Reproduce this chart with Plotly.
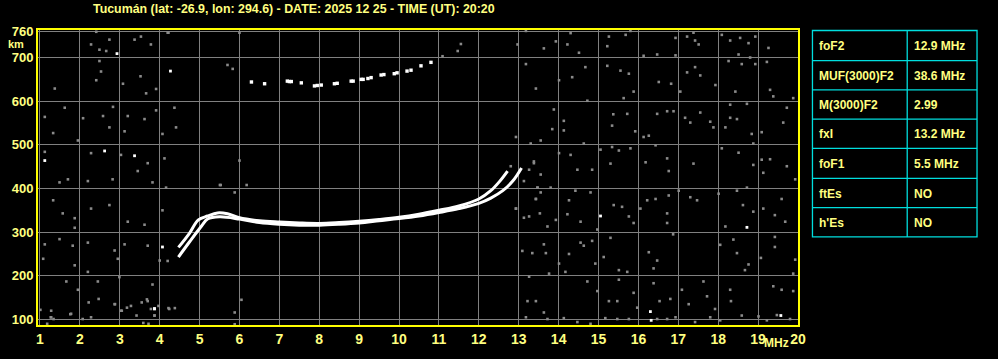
import plotly.graph_objects as go

# ---------------- data ----------------
title_text = "Tucumán (lat: -26.9, lon: 294.6) - DATE: 2025 12 25 - TIME (UT): 20:20"
freq_ticks = list(range(1, 21))
height_ticks = [100, 200, 300, 400, 500, 600, 700, 760]

# ordinary-ray trace (MHz, km)
o_freq = [4.47, 4.75, 4.97, 5.2, 5.45, 5.7, 6.0, 6.5, 7.0, 7.5, 8.0, 8.5, 9.0, 9.5, 10.0,
          10.5, 11.0, 11.5, 12.0, 12.3, 12.5, 12.72]
o_height = [265, 298, 328, 337, 344, 342, 333, 326, 323, 321, 320, 322, 325, 329, 334,
            341, 350, 360, 376, 395, 414, 440]
# extraordinary-ray trace
x_freq = [4.47, 4.75, 5.05, 5.2, 5.5, 6.0, 6.5, 7.0, 7.5, 8.0, 8.5, 9.0, 9.5, 10.0, 10.5,
          11.0, 11.5, 12.0, 12.3, 12.6, 12.85, 13.07]
x_height = [243, 278, 314, 330, 335, 330, 322, 318, 316, 316, 318, 321, 326, 331, 337,
            345, 354, 366, 378, 395, 417, 447]
# second-hop echo (patchy)
hop2_freq = [6.3, 6.63, 7.2, 7.25, 7.3, 7.55, 7.88, 7.95, 8.05, 8.38, 8.45, 8.8, 8.85, 9.05,
             9.1, 9.22, 9.3, 9.55, 9.62, 9.88, 9.95, 10.2, 10.3, 10.55, 10.8]
hop2_height = [644, 640, 646, 645, 645, 642, 635, 636, 637, 640, 641, 646, 646, 650,
               650, 652, 654, 660, 661, 663, 665, 669, 671, 681, 689]

# background noise pixels (grey)
noise_freq = [2.41, 2.74, 2.28, 2.66, 2.49, 3.53, 3.78, 3.37, 4.2, 2.49, 2.53, 2.41, 3.08, 3.52,
              3.66, 3.91, 1.37, 5.7, 5.83, 1.12, 1.62, 2.08, 2.83, 2.58, 3.2, 3.62, 3.91, 4.37,
              4.41, 1.33, 1.95, 2.74, 3.12, 4.07, 1.12, 2.28, 3.03, 3.7, 3.45, 4.12, 1.49, 1.7,
              2.2, 2.82, 3.82, 4.16, 5.53, 1.33, 1.57, 1.87, 2.28, 2.74, 3.2, 3.62, 4.07, 1.87,
              1.12, 1.49, 1.82, 2.2, 2.87, 3.12, 3.7, 1.08, 1.87, 2.2, 2.95, 4.0, 4.2, 1.66,
              2.45, 2.99, 3.82, 1.95, 2.87, 3.7, 1.28, 1.78, 2.28, 3.03, 4.24, 3.28, 1.28, 2.07,
              3.87, 4.22, 6.0, 11.09, 11.47, 11.55, 6.0, 6.18, 5.51, 5.88, 5.88, 6.05,
              1.01, 1.27, 1.34, 1.18, 1.76, 2.22, 2.47, 2.88, 3.05, 3.18, 3.42, 3.55, 3.68, 3.78,
              3.87, 3.97, 4.22, 4.38, 3.59, 3.72, 5.88,
              12.8, 13.26, 12.93, 13.38, 13.47, 13.55, 13.43, 13.26, 13.72,
              13.18, 13.93, 14.22, 14.3, 13.63, 12.97, 14.51, 15.26, 15.22, 15.68, 15.8, 16.93,
              17.38, 17.42, 17.22, 17.51, 18.09, 18.3, 18.55, 18.76, 18.93, 19.26, 18.51, 18.8,
              16.93, 16.47, 16.13, 13.18, 14.34, 14.67, 15.22, 15.55, 15.76, 13.43, 14.01,
              14.72, 15.63, 15.88, 16.51, 16.82, 17.05, 17.22, 17.42, 17.55, 17.93, 18.26,
              18.59, 18.43, 18.93, 19.22, 19.3, 19.38, 19.88, 13.88, 14.13, 13.84, 14.13, 12.93,
              13.55, 13.3, 15.37, 15.34, 15.72, 15.92, 16.13, 16.26, 16.47, 16.72, 16.88, 17.17,
              17.3, 17.55, 17.8, 17.88, 18.3, 18.3, 18.18, 18.47, 18.72, 19.09, 19.63, 19.72,
              18.84, 13.38, 14.01, 14.3, 14.63, 15.05, 15.34, 15.51, 15.8, 16.18, 16.43, 16.72,
              17.38, 18.09, 18.51, 18.88, 19.09, 19.3, 19.72, 14.47, 14.84, 15.3, 16.76, 18.88,
              19.13,
              13.13, 13.47, 13.8, 13.55, 13.43, 14.26, 14.42, 14.8, 12.93, 13.13, 13.53, 13.93,
              14.22, 14.55, 14.97, 15.38, 15.59, 15.76, 15.88, 16.05, 16.22, 16.43, 16.72, 16.72,
              16.76, 17.01, 17.3, 17.47, 18.01, 18.18, 18.47, 18.72, 18.62, 18.88, 19.13, 19.42,
              19.59, 19.68, 19.93, 13.09, 13.34, 13.63, 13.68, 14.01, 14.26, 14.55, 14.63, 14.84,
              14.92, 15.13, 15.3, 15.51, 15.72, 16.26, 16.47, 16.38, 16.87, 18.05, 18.38, 18.47,
              18.76, 18.67, 19.07, 19.42, 19.42, 19.88, 19.93, 13.76, 14.17, 13.26, 14.72, 14.97,
              15.26, 15.47, 15.51, 15.88, 15.97, 16.38, 16.53, 16.8, 17.09, 17.26, 17.63, 17.72,
              17.92, 18.3, 18.32, 18.59, 19.38, 19.59, 19.88, 13.22, 13.43, 13.63, 13.18, 13.72,
              14.13, 14.47, 14.8, 15.17, 15.47, 15.76, 16.47, 16.72, 16.93, 17.42, 17.8, 18.05,
              19.01, 19.22, 19.47, 19.8]
noise_height = [759, 741, 730, 715, 718, 748, 730, 741, 757, 692, 668, 648, 640, 657,
                618, 628, 629, 683, 674, 564, 585, 561, 587, 566, 566, 559, 579, 585,
                540, 527, 510, 540, 531, 525, 484, 481, 477, 458, 440, 469, 414, 421,
                417, 421, 414, 402, 408, 373, 343, 332, 354, 362, 324, 317, 350, 310,
                272, 284, 269, 276, 258, 272, 269, 239, 224, 209, 239, 235, 234, 187,
                187, 197, 180, 168, 135, 142, 120, 113, 105, 120, 124, 131, 105, 101,
                109, 757, 757, 703, 715, 731, 464, 408, 408, 391, 116, 145,
                122, 105, 101, 90, 112, 139, 147, 135, 120, 127, 109, 139, 146, 124,
                109, 131, 126, 126, 92, 90, 89,
                451, 443, 354, 458, 402, 432, 376, 336, 313,
                761, 737, 730, 756, 721, 730, 711, 748, 726, 752, 761, 745,
                757, 739, 748, 730, 752, 739, 745, 733, 748, 722, 707, 700,
                705, 707, 704, 685, 655, 678, 681, 670, 663, 629, 648,
                601, 607, 622, 644, 640, 622, 666, 678, 659, 637, 692,
                685, 622, 685, 690, 626, 611, 607, 581, 555, 536, 533, 518,
                510, 503, 570, 544, 571, 531, 518, 521, 571, 577, 577, 562,
                551, 574, 553, 540, 592, 562, 540, 559, 594, 529, 551, 585,
                525, 462, 481, 477, 503, 489, 495, 487, 492, 460, 499, 469,
                457, 492, 482, 503, 466, 467, 451, 443, 443, 457, 440, 454,
                436,
                417, 402, 402, 391, 376, 373, 395, 391, 354, 333, 343, 328,
                341, 324, 306, 362, 358, 336, 321, 354, 373, 376, 343, 321,
                384, 395, 380, 373, 388, 313, 395, 402, 362, 347, 354, 339,
                376, 324, 421, 257, 252, 272, 252, 228, 250, 276, 269, 280,
                228, 243, 287, 213, 209, 254, 235, 217, 295, 271, 283, 252,
                226, 213, 241, 289, 266, 205, 237, 205, 209, 198, 187, 165,
                142, 142, 191, 161, 127, 183, 142, 147, 168, 135, 187, 153,
                124, 168, 142, 109, 176, 168, 165, 142, 142, 116, 105, 101,
                103, 94, 90, 103, 101, 101, 101, 101, 105, 94, 105, 98,
                107, 98, 110, 101]
# brighter isolated pixels (white)
bright_freq = [2.93, 4.27, 1.12, 2.62, 3.37, 4.07, 3.87, 3.87, 15.05, 18.72, 16.3, 16.32, 19.57]
bright_height = [709, 669, 464, 486, 475, 266, 124, 125, 337, 311, 118, 98, 109]

# parameter table
param_names = ["foF2", "MUF(3000)F2", "M(3000)F2", "fxI", "foF1", "ftEs", "h'Es"]
param_values = ["12.9 MHz", "38.6 MHz", "2.99", "13.2 MHz", "5.5 MHz", "NO", "NO"]

# ---------------- figure ----------------
YEL = "#ffff80"
BORDER = "#ffff00"
GRID = "#808080"
CYAN = "#00dede"
FONT = "Liberation Sans"

W, H = 998, 359
ML, MR, MT, MB = 36, 200, 30, 26
PW, PH = W - ML - MR, H - MT - MB


def px(x):
    return (x - ML) / PW


def py(y):
    return (H - MB - y) / PH


fig = go.Figure()

fig.add_trace(go.Scatter(x=noise_freq, y=noise_height, mode="markers",
                         marker=dict(symbol="square", size=2.6, color="#8a8a8a", line_width=0),
                         hoverinfo="skip"))
fig.add_trace(go.Scatter(x=bright_freq, y=bright_height, mode="markers",
                         marker=dict(symbol="square", size=2.8, color="#ffffff", line_width=0),
                         hoverinfo="skip"))
fig.add_trace(go.Scatter(x=hop2_freq, y=hop2_height, mode="markers",
                         marker=dict(symbol="square", size=3.4, color="#ffffff", line_width=0),
                         hoverinfo="skip"))
fig.add_trace(go.Scatter(x=o_freq, y=o_height, mode="lines", line_shape="spline",
                         line=dict(color="#ffffff", width=3), hoverinfo="skip"))
fig.add_trace(go.Scatter(x=x_freq, y=x_height, mode="lines", line_shape="spline",
                         line=dict(color="#ffffff", width=3), hoverinfo="skip"))

fig.update_xaxes(range=[0.95, 20.0], tickvals=freq_ticks, ticktext=[str(t) for t in freq_ticks],
                 showgrid=True, gridcolor=GRID, gridwidth=1, zeroline=False,
                 showline=True, linecolor=BORDER, linewidth=2, mirror=True, ticks="",
                 tickfont=dict(family=FONT, size=14, color=YEL, weight="bold"))
fig.update_yaxes(range=[87.3, 763.1], tickvals=height_ticks, ticktext=[str(t) for t in height_ticks],
                 showgrid=True, gridcolor=GRID, gridwidth=1, zeroline=False,
                 showline=True, linecolor=BORDER, linewidth=2, mirror=True, ticks="",
                 tickfont=dict(family=FONT, size=13, color=YEL, weight="bold"))

annotations = [
    dict(text=title_text, x=px(89), y=py(8), xref="paper", yref="paper", xanchor="left",
         yanchor="middle", showarrow=False, font=dict(family=FONT, size=12.4, color=YEL, weight="bold")),
    dict(text="km", x=px(14), y=py(44.5), xref="paper", yref="paper", xanchor="center",
         yanchor="middle", showarrow=False, font=dict(family=FONT, size=11, color=YEL, weight="bold")),
    dict(text="MHz", x=px(776), y=py(351), xref="paper", yref="paper", xanchor="center",
         yanchor="middle", showarrow=False, font=dict(family=FONT, size=12, color=YEL, weight="bold")),
]

shapes = []
tx0, tx1, tdiv = 812.5, 977.5, 907.5
row_edges = [30.5, 61.5, 91.5, 121.5, 151.5, 182.5, 212.5, 242.5]
shapes.append(dict(type="rect", xref="paper", yref="paper", x0=px(tx0), x1=px(tx1),
                   y0=py(row_edges[-1]), y1=py(row_edges[0]), line=dict(color=CYAN, width=1.3),
                   fillcolor="rgba(0,0,0,0)", layer="above"))
shapes.append(dict(type="line", xref="paper", yref="paper", x0=px(tdiv), x1=px(tdiv),
                   y0=py(row_edges[-1]), y1=py(row_edges[0]), line=dict(color=CYAN, width=1.3)))
for ye in row_edges[1:-1]:
    shapes.append(dict(type="line", xref="paper", yref="paper", x0=px(tx0), x1=px(tx1),
                       y0=py(ye), y1=py(ye), line=dict(color=CYAN, width=1.3)))
for i, (nm, val) in enumerate(zip(param_names, param_values)):
    yc = (row_edges[i] + row_edges[i + 1]) / 2 + 0.5
    annotations.append(dict(text=nm, x=px(817), y=py(yc), xref="paper", yref="paper",
                            xanchor="left", yanchor="middle", showarrow=False,
                            font=dict(family=FONT, size=12, color=YEL, weight="bold")))
    annotations.append(dict(text=val, x=px(912), y=py(yc), xref="paper", yref="paper",
                            xanchor="left", yanchor="middle", showarrow=False,
                            font=dict(family=FONT, size=12, color=YEL, weight="bold")))

fig.update_layout(width=W, height=H, margin=dict(l=ML, r=MR, t=MT, b=MB),
                  paper_bgcolor="#000000", plot_bgcolor="#000000", showlegend=False,
                  annotations=annotations, shapes=shapes)

fig.write_html("out.html", config={"displayModeBar": False})
